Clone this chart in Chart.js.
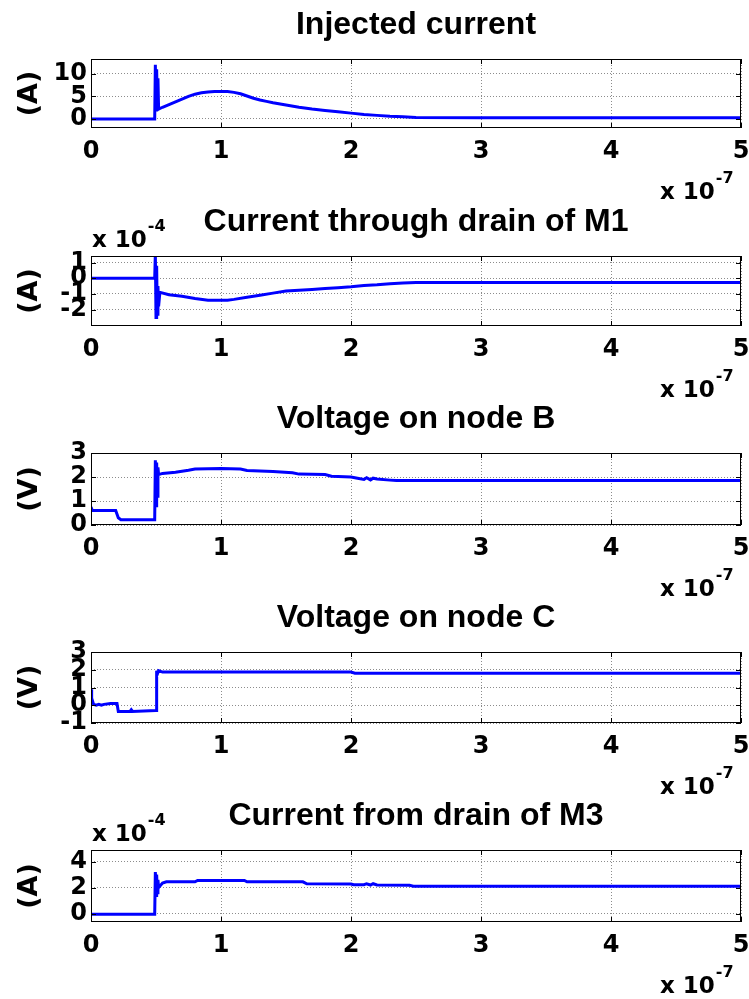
<!DOCTYPE html>
<html>
<head>
<meta charset="utf-8">
<script src="https://cdn.jsdelivr.net/npm/chart.js@4/dist/chart.umd.min.js"></script>
<style>
  html, body { margin: 0; padding: 0; background: #fff; overflow: hidden; }
  #wrap { position: relative; width: 749px; height: 999px; }
  canvas { position: absolute; left: 0; }
</style>
</head>
<body>
<div id="wrap"></div>
<script>
// Time axis in units of 1e-7 s
const xTicks = [0, 1, 2, 3, 4, 5];

// Injected current (A)
const injT = [0, 0.49, 0.495, 0.50, 0.505, 0.51, 0.515, 0.52, 0.55, 0.6, 0.65, 0.7, 0.75, 0.8, 0.85, 0.9, 0.95, 1.0, 1.05, 1.1, 1.15, 1.2, 1.25, 1.3, 1.35, 1.4, 1.5, 1.6, 1.7, 1.8, 1.9, 2.0, 2.1, 2.2, 2.3, 2.4, 2.5, 3, 4, 5];
const injI = [0, 0, 12, 2, 11, 3, 9, 2.2, 2.6, 3.2, 3.8, 4.4, 5.0, 5.5, 5.8, 6.0, 6.1, 6.1, 6.1, 5.9, 5.6, 5.1, 4.6, 4.2, 3.9, 3.6, 3.1, 2.6, 2.2, 1.9, 1.6, 1.3, 1.0, 0.8, 0.6, 0.5, 0.35, 0.3, 0.3, 0.3];
const injTicks = [0, 5, 10];

// Current through drain of M1 (x 1e-4 A)
const m1T = [0, 0.49, 0.495, 0.50, 0.505, 0.51, 0.515, 0.52, 0.53, 0.6, 0.7, 0.8, 0.9, 1.0, 1.05, 1.1, 1.2, 1.3, 1.4, 1.5, 1.6, 1.7, 1.8, 1.9, 2.0, 2.1, 2.2, 2.3, 2.4, 2.5, 3, 4, 5];
const m1I = [0, 0, 1.6, -2.5, 0.8, -2.3, -0.5, -1.8, -0.9, -1.05, -1.15, -1.3, -1.4, -1.4, -1.4, -1.35, -1.22, -1.08, -0.95, -0.82, -0.77, -0.72, -0.66, -0.6, -0.55, -0.47, -0.42, -0.35, -0.3, -0.27, -0.27, -0.27, -0.27];
const m1Ticks = [-2, -1, 0, 1];

// Voltage on node B (V)
const vbT = [0, 0.01, 0.02, 0.19, 0.21, 0.23, 0.49, 0.495, 0.50, 0.505, 0.51, 0.515, 0.52, 0.55, 0.65, 0.75, 0.8, 1.0, 1.15, 1.2, 1.4, 1.55, 1.6, 1.8, 1.85, 2.0, 2.05, 2.1, 2.12, 2.15, 2.17, 2.2, 2.3, 2.35, 3, 4, 5];
const vbV = [0.75, 0.6, 0.6, 0.6, 0.3, 0.22, 0.22, 2.7, 0.8, 2.6, 1.2, 2.4, 2.1, 2.15, 2.2, 2.28, 2.33, 2.35, 2.33, 2.27, 2.23, 2.18, 2.12, 2.1, 2.03, 2.0, 1.95, 1.9, 1.97, 1.88, 1.95, 1.92, 1.87, 1.85, 1.85, 1.85, 1.85];
const vbTicks = [0, 1, 2, 3];

// Voltage on node C (V)
const vcT = [0, 0.005, 0.02, 0.04, 0.06, 0.08, 0.1, 0.15, 0.2, 0.21, 0.3, 0.31, 0.32, 0.5, 0.505, 0.51, 0.52, 0.55, 1.0, 2.0, 2.03, 3, 4, 5];
const vcV = [0.9, 0.4, 0.05, 0.0, 0.05, 0.0, 0.05, 0.1, 0.1, -0.35, -0.35, -0.25, -0.35, -0.3, 1.95, 1.75, 1.95, 1.87, 1.87, 1.87, 1.8, 1.8, 1.8, 1.8];
const vcTicks = [-1, 0, 1, 2, 3];

// Current from drain of M3 (x 1e-4 A)
const m3T = [0, 0.49, 0.495, 0.50, 0.505, 0.51, 0.515, 0.52, 0.55, 0.58, 0.8, 0.82, 1.18, 1.2, 1.63, 1.66, 2.0, 2.02, 2.1, 2.12, 2.15, 2.17, 2.2, 2.45, 2.48, 3, 4, 5];
const m3I = [-0.05, -0.05, 3.2, 1.4, 3.0, 1.6, 2.6, 2.0, 2.35, 2.45, 2.45, 2.55, 2.55, 2.45, 2.45, 2.3, 2.28, 2.22, 2.22, 2.3, 2.2, 2.3, 2.2, 2.18, 2.1, 2.1, 2.1, 2.1];
const m3Ticks = [0, 2, 4];

const TITLE_FONT = '"Liberation Sans", Arial, Helvetica, sans-serif';
const AXIS_FONT = '"DejaVu Sans", "Liberation Sans", Arial, sans-serif';

const panels = [
  { title: 'Injected current',            unit: '(A)', t: injT, v: injI, ticks: injTicks, min: -2,    max: 13.3, exp: null, top: 59,  h: 69 },
  { title: 'Current through drain of M1', unit: '(A)', t: m1T,  v: m1I,  ticks: m1Ticks,  min: -3.05, max: 1.42, exp: '-4', top: 256, h: 70 },
  { title: 'Voltage on node B',           unit: '(V)', t: vbT,  v: vbV,  ticks: vbTicks,  min: 0,     max: 3,    exp: null, top: 453, h: 72 },
  { title: 'Voltage on node C',           unit: '(V)', t: vcT,  v: vcV,  ticks: vcTicks,  min: -1,    max: 3,    exp: null, top: 652, h: 71 },
  { title: 'Current from drain of M3',    unit: '(A)', t: m3T,  v: m3I,  ticks: m3Ticks,  min: -0.65, max: 4.9,  exp: '-4', top: 850, h: 72 }
];

const CANVAS_H = 210;
const PAD_TOP = 58;
const X_AXIS_H = 40;

// Draws the axes box, inward tick marks and the annotation texts
const frame = {
  id: 'frame',
  afterDraw(chart, args, opts) {
    const { ctx, chartArea: ca, scales } = chart;
    const p = opts.panel;
    ctx.save();
    ctx.strokeStyle = '#000';
    ctx.lineWidth = 1;
    ctx.strokeRect(ca.left + 0.5, ca.top + 0.5, ca.right - ca.left - 1, ca.bottom - ca.top - 1);

    const tl = 5;
    ctx.beginPath();
    scales.x.ticks.forEach(tk => {
      const x = Math.round(scales.x.getPixelForValue(tk.value)) + 0.5;
      ctx.moveTo(x, ca.bottom); ctx.lineTo(x, ca.bottom - tl);
      ctx.moveTo(x, ca.top); ctx.lineTo(x, ca.top + tl);
    });
    scales.y.ticks.forEach(tk => {
      const y = Math.round(scales.y.getPixelForValue(tk.value)) + 0.5;
      ctx.moveTo(ca.left, y); ctx.lineTo(ca.left + tl, y);
      ctx.moveTo(ca.right, y); ctx.lineTo(ca.right - tl, y);
    });
    ctx.stroke();

    ctx.fillStyle = '#000';
    // title
    ctx.font = 'bold 32px ' + TITLE_FONT;
    ctx.textAlign = 'center';
    ctx.textBaseline = 'alphabetic';
    ctx.fillText(p.title, (ca.left + ca.right) / 2, ca.top - 25);

    // y label
    ctx.save();
    ctx.translate(30, (ca.top + ca.bottom) / 2);
    ctx.rotate(-Math.PI / 2);
    ctx.font = 'bold 27px ' + AXIS_FONT;
    ctx.textAlign = 'center';
    ctx.textBaseline = 'middle';
    ctx.fillText(p.unit, 0, 0);
    ctx.restore();

    // multiplier texts
    const mult = (x, y, e) => {
      ctx.textAlign = 'left';
      ctx.font = 'bold 23px ' + AXIS_FONT;
      ctx.fillText('x 10', x, y);
      const w = ctx.measureText('x 10').width;
      ctx.font = 'bold 16px ' + AXIS_FONT;
      ctx.fillText(e, x + w + 1, y - 16);
    };
    mult(660, ca.bottom + 71, '-7');
    if (p.exp) mult(92, ca.top - 9, p.exp);
    ctx.restore();
  }
};

const wrap = document.getElementById('wrap');

panels.forEach(p => {
  const cv = document.createElement('canvas');
  cv.width = 749;
  cv.height = CANVAS_H;
  cv.style.top = (p.top - PAD_TOP) + 'px';
  wrap.appendChild(cv);

  const pts = p.t.map((t, i) => ({ x: t, y: p.v[i] }));
  const tickFont = { family: AXIS_FONT, size: 24, weight: 'bold' };
  const gridCommon = { color: 'rgba(0,0,0,0.45)', lineWidth: 1, drawTicks: false };

  new Chart(cv, {
    type: 'line',
    data: {
      datasets: [{
        data: pts,
        borderColor: '#0000ff',
        borderWidth: 3,
        pointRadius: 0,
        tension: 0,
        fill: false
      }]
    },
    options: {
      responsive: false,
      animation: false,
      events: [],
      layout: { padding: { left: 0, right: 8, top: PAD_TOP, bottom: CANVAS_H - PAD_TOP - X_AXIS_H - p.h } },
      plugins: {
        legend: { display: false },
        tooltip: { enabled: false },
        title: { display: false },
        frame: { panel: p }
      },
      scales: {
        x: {
          type: 'linear',
          min: 0, max: 5,
          afterBuildTicks: s => { s.ticks = xTicks.map(v => ({ value: v })); },
          afterFit: s => { s.height = X_AXIS_H; s.paddingLeft = 0; s.paddingRight = 0; },
          grid: gridCommon,
          border: { display: false, dash: [1, 2] },
          ticks: { font: tickFont, color: '#000', padding: 9, maxRotation: 0, autoSkip: false }
        },
        y: {
          type: 'linear',
          min: p.min, max: p.max,
          afterBuildTicks: s => { s.ticks = p.ticks.map(v => ({ value: v })); },
          afterFit: s => { s.width = 91; s.paddingTop = 0; s.paddingBottom = 0; },
          grid: gridCommon,
          border: { display: false, dash: [1, 2] },
          ticks: { font: tickFont, color: '#000', padding: 4, autoSkip: false }
        }
      }
    },
    plugins: [frame]
  });
});
</script>
</body>
</html>
